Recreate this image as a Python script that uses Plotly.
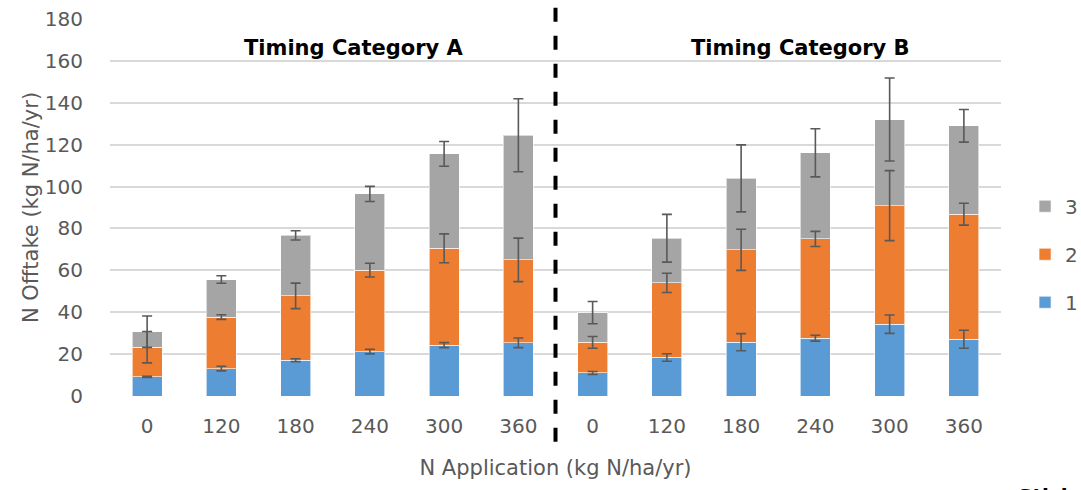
import numpy as np
import plotly.graph_objects as go

# N application rates, repeated for the two timing categories
rates = ["0", "120", "180", "240", "300", "360"]
tick_labels = rates + rates

# Component offtake (kg N/ha/yr): Category A followed by Category B
comp1 = [9.1, 13.1, 17.1, 21.2, 24.3, 25.4, 11.0, 18.4, 25.7, 27.6, 34.3, 27.1]
comp2 = [14.2, 24.6, 30.7, 38.9, 46.2, 39.6, 14.6, 35.6, 44.1, 47.4, 56.6, 59.7]
comp3 = [7.4, 17.9, 28.9, 36.4, 45.1, 59.5, 14.2, 21.3, 34.1, 41.1, 41.1, 42.2]

# Standard errors for each component
err1 = [0.3, 1.1, 0.7, 1.1, 1.2, 2.3, 0.7, 1.8, 4.1, 1.4, 4.4, 4.3]
err2 = [7.5, 1.1, 6.1, 3.3, 6.9, 10.4, 2.8, 4.6, 9.8, 3.6, 16.7, 5.2]
err3 = [7.5, 1.8, 2.2, 3.6, 5.9, 17.4, 5.3, 11.4, 16.0, 11.5, 19.8, 7.8]

series_names = ["1", "2", "3"]
colors = ["#5B9BD5", "#ED7D31", "#A5A5A5"]

x = list(range(len(tick_labels)))
values = [comp1, comp2, comp3]
errors = [err1, err2, err3]
tops = np.cumsum(np.array(values), axis=0)

fig = go.Figure()
for i, (name, vals, col) in enumerate(zip(series_names, values, colors)):
    fig.add_trace(go.Bar(
        x=x, y=vals, name=name, marker_color=col,
        marker_line=dict(color="rgba(255,255,255,0.6)", width=1),
        legendgroup=name, legendrank=100 - i,  # top of the stack listed first
    ))

# Error bars drawn above all bar segments, at each segment's stacked top
for i in range(3):
    fig.add_trace(go.Scatter(
        x=x, y=tops[i], mode="markers",
        marker=dict(size=0.1, color="rgba(0,0,0,0)"),
        error_y=dict(type="data", array=errors[i], visible=True,
                     color="#595959", thickness=1.6, width=5),
        showlegend=False, hoverinfo="skip",
    ))

font_main = "DejaVu Sans, Arial, sans-serif"

fig.update_layout(
    width=1081, height=490,
    barmode="stack", bargap=0.596,
    plot_bgcolor="white", paper_bgcolor="white",
    margin=dict(l=110, r=80, t=19, b=94, autoexpand=False),
    font=dict(family=font_main, size=20, color="#595959"),
    legend=dict(
        x=1.027, y=0.376, xanchor="left", yanchor="middle",
        traceorder="grouped", tracegroupgap=19,
        font=dict(size=20, color="#595959"),
        bgcolor="rgba(0,0,0,0)",
    ),
    showlegend=True,
)

fig.update_xaxes(
    tickmode="array", tickvals=x, ticktext=tick_labels,
    range=[-0.5, len(x) - 0.5],
    showgrid=False, showline=False, zeroline=False,
    ticks="", ticklabelstandoff=16,
    title=dict(text="N Application (kg N/ha/yr)", standoff=23,
               font=dict(size=21, color="#595959")),
)
fig.update_yaxes(
    range=[0, 180], dtick=20,
    showgrid=True, gridcolor="#D9D9D9", gridwidth=1.5,
    zeroline=False, showline=False,
    ticks="", ticklabelstandoff=26,
    title=dict(text="N Offtake (kg N/ha/yr)", standoff=0,
               font=dict(size=21, color="#595959")),
)

# Dashed separator between the two timing categories
fig.add_shape(
    type="line", xref="x", yref="paper",
    x0=5.5, x1=5.5, y0=1.03, y1=-0.14,
    line=dict(color="black", width=4, dash="14px,14px"),
)

# Category headings
for label, xp in [("Timing Category A", 0.274), ("Timing Category B", 0.7755)]:
    fig.add_annotation(
        text="<b>%s</b>" % label, xref="paper", yref="paper",
        x=xp, y=0.922, xanchor="center", yanchor="middle", showarrow=False,
        font=dict(family=font_main, size=21, color="black"),
    )

# Trailing caption at the lower-right edge
fig.add_annotation(
    text="<b>Stick</b>", xref="paper", yref="paper",
    x=(1016 - 110) / 891, y=(396.3 - 482) / 376, xanchor="left", yanchor="top",
    showarrow=False, font=dict(family=font_main, size=20, color="black"),
)

fig.write_html("out.html")
